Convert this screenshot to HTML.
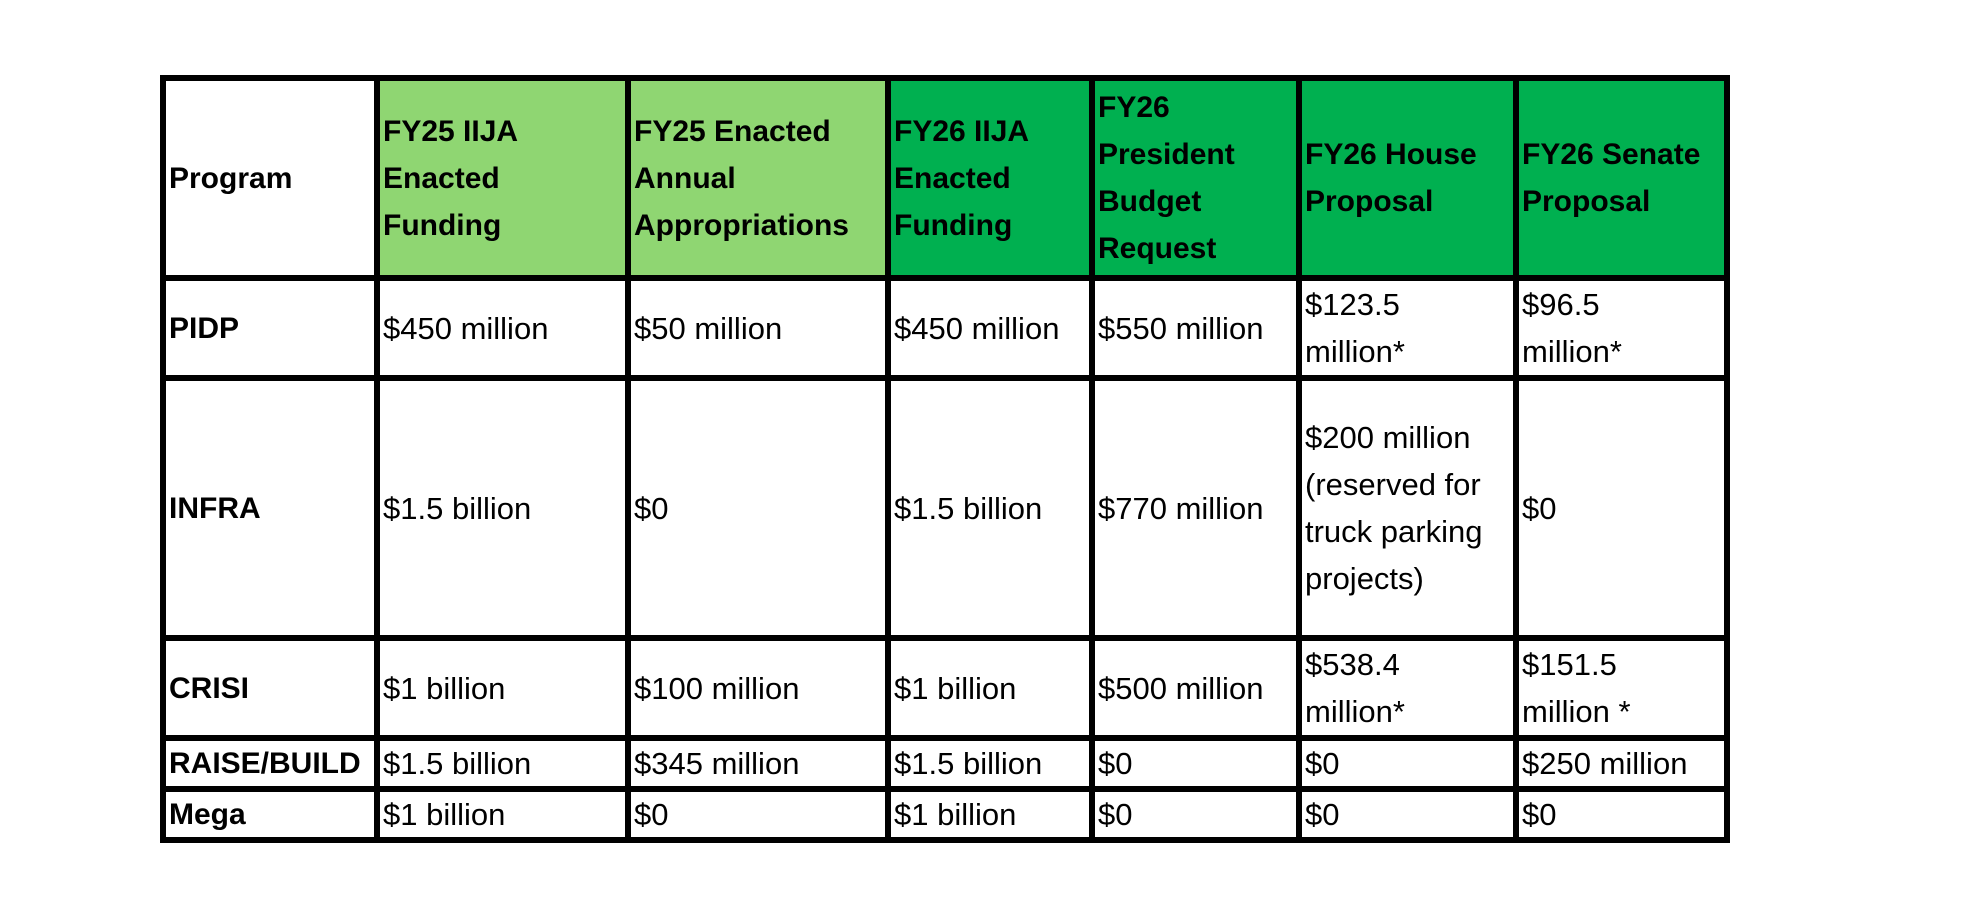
<!DOCTYPE html>
<html><head><meta charset="utf-8">
<style>
body{margin:0;width:1978px;height:900px;background:#fff;position:relative;overflow:hidden;font-family:"Liberation Sans",Arial,sans-serif;}
.c{position:absolute;display:flex;align-items:center;box-sizing:border-box;padding-left:6px;color:#000;}
.h{font-weight:bold;font-size:30px;line-height:47px;}
.d{font-size:31px;line-height:47px;}
.l{position:absolute;background:#000;}
</style></head>
<body>
<div id="t"></div>
<script>
const xs=[163,377,628,888,1092,1299,1516,1727];
const ys=[78,278,378,638,738,789,840];
const headers=["Program","FY25 IIJA<br>Enacted<br>Funding","FY25 Enacted<br>Annual<br>Appropriations","FY26 IIJA<br>Enacted<br>Funding","FY26<br>President<br>Budget<br>Request","FY26 House<br>Proposal","FY26 Senate<br>Proposal"];
const headerFill=["#ffffff","#8fd672","#8fd672","#00b050","#00b050","#00b050","#00b050"];
const programs=["PIDP","INFRA","CRISI","RAISE/BUILD","Mega"];
const rows=[
["$450 million","$50 million","$450 million","$550 million","$123.5<br>million*","$96.5<br>million*"],
["$1.5 billion","$0","$1.5 billion","$770 million","$200 million<br>(reserved for<br>truck parking<br>projects)","$0"],
["$1 billion","$100 million","$1 billion","$500 million","$538.4<br>million*","$151.5<br>million *"],
["$1.5 billion","$345 million","$1.5 billion","$0","$0","$250 million"],
["$1 billion","$0","$1 billion","$0","$0","$0"]
];
const t=document.getElementById('t');
function cell(r,c,html,cls,bg){
  const d=document.createElement('div');
  d.className='c '+cls;
  d.style.left=xs[c]+'px';d.style.top=ys[r]+'px';
  d.style.width=(xs[c+1]-xs[c])+'px';d.style.height=(ys[r+1]-ys[r])+'px';
  if(bg)d.style.background=bg;
  d.innerHTML='<div>'+html+'</div>';
  t.appendChild(d);
  return d;
}
headers.forEach((h,c)=>{
  const d=cell(0,c,h,'h',headerFill[c]);
  
  
});
programs.forEach((p,r)=>{
  const d=cell(r+1,0,p,'h',null);
  
  
  rows[r].forEach((v,c)=>{
    const e=cell(r+1,c+1,v,'d',null);
    
    
  });
});
const W=6;
xs.forEach(x=>{
  const l=document.createElement('div');l.className='l';
  l.style.left=(x-W/2)+'px';l.style.top=(ys[0]-W/2)+'px';
  l.style.width=W+'px';l.style.height=(ys[ys.length-1]-ys[0]+W)+'px';
  
  
  t.appendChild(l);
});
ys.forEach(y=>{
  const l=document.createElement('div');l.className='l';
  l.style.left=(xs[0]-W/2)+'px';l.style.top=(y-W/2)+'px';
  l.style.height=W+'px';l.style.width=(xs[xs.length-1]-xs[0]+W)+'px';
  
  
  t.appendChild(l);
});
</script>
</body></html>
